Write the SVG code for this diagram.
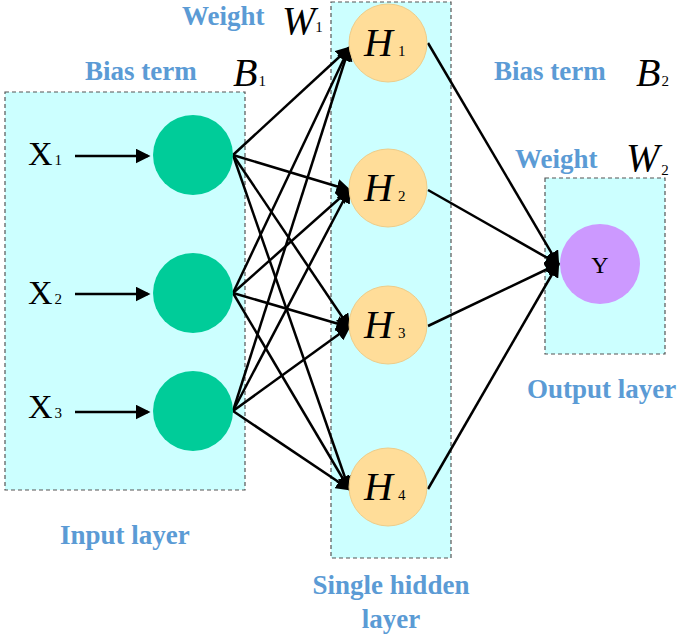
<svg xmlns="http://www.w3.org/2000/svg" width="685" height="637" viewBox="0 0 685 637">
<style>
.box{fill:#ccffff;stroke:#555;stroke-dasharray:4,3;stroke-width:1.2}
.lbl{font-family:"Liberation Serif",serif;font-weight:bold;fill:#5b9bd5;font-size:27px}
.m{font-family:"Liberation Serif",serif;font-style:italic;font-size:40px;fill:#000}
.s{font-family:"Liberation Serif",serif;font-size:15px;fill:#000;font-style:normal}
.x{font-family:"Liberation Serif",serif;font-size:34px;fill:#000}
.in{fill:#00cc99}
.hid{fill:#ffdd99;stroke:#eecc88}
.c line{stroke:#000;stroke-width:2.5;marker-end:url(#a)}
</style>
<defs><marker id="a" markerWidth="6" markerHeight="6" refX="5" refY="3" orient="auto" markerUnits="strokeWidth"><path d="M0,0L6,3L0,6z"/></marker></defs>
<rect class="box" x="5" y="92" width="240" height="398"/>
<rect class="box" x="331" y="2" width="120" height="556"/>
<rect class="box" x="545" y="178" width="120" height="176"/>
<g class="c">
<line x1="75" y1="156" x2="148" y2="156"/>
<line x1="75" y1="294" x2="148" y2="294"/>
<line x1="75" y1="412" x2="148" y2="412"/>
<line x1="233" y1="155" x2="349" y2="48"/><line x1="233" y1="155" x2="349" y2="190"/><line x1="233" y1="155" x2="349" y2="327"/><line x1="233" y1="155" x2="349" y2="489"/>
<line x1="233" y1="293" x2="349" y2="48"/><line x1="233" y1="293" x2="349" y2="190"/><line x1="233" y1="293" x2="349" y2="327"/><line x1="233" y1="293" x2="349" y2="489"/>
<line x1="233" y1="411" x2="349" y2="48"/><line x1="233" y1="411" x2="349" y2="190"/><line x1="233" y1="411" x2="349" y2="327"/><line x1="233" y1="411" x2="349" y2="489"/>
<line x1="428" y1="43" x2="558" y2="264"/><line x1="428" y1="190" x2="558" y2="264"/><line x1="428" y1="326" x2="558" y2="264"/><line x1="428" y1="489" x2="558" y2="264"/>
</g>
<g id="x1"><circle class="in" cx="193" cy="155" r="40"/><text class="x" x="28" y="165">X<tspan class="s" dx="2">1</tspan></text></g>
<g id="x2"><circle class="in" cx="193" cy="293" r="40"/><text class="x" x="28" y="304">X<tspan class="s" dx="2">2</tspan></text></g>
<g id="x3"><circle class="in" cx="193" cy="411" r="40"/><text class="x" x="28" y="418">X<tspan class="s" dx="2">3</tspan></text></g>
<g id="h1"><circle class="hid" cx="388" cy="43" r="39"/><text class="m" x="364" y="56">H<tspan class="s" dx="5">1</tspan></text></g>
<g id="h2"><circle class="hid" cx="388" cy="188" r="39"/><text class="m" x="364" y="201">H<tspan class="s" dx="5">2</tspan></text></g>
<g id="h3"><circle class="hid" cx="388" cy="325" r="39"/><text class="m" x="364" y="338">H<tspan class="s" dx="5">3</tspan></text></g>
<g id="h4"><circle class="hid" cx="388" cy="487" r="39"/><text class="m" x="364" y="500">H<tspan class="s" dx="5">4</tspan></text></g>
<g id="y"><circle cx="600" cy="264" r="40" fill="#cc99ff"/><text x="600" y="273" text-anchor="middle" style="font-family:'Liberation Serif',serif;font-size:24px">Y</text></g>
<text class="lbl" x="182" y="25">Weight</text>
<text class="m" x="282" y="34">W<tspan class="s" dx="0" dy="-2">1</tspan></text>
<text class="lbl" x="85" y="80">Bias term</text>
<text class="m" x="233" y="86">B<tspan class="s" dx="1">1</tspan></text>
<text class="lbl" x="494" y="80">Bias term</text>
<text class="m" x="636" y="86">B<tspan class="s" dx="1">2</tspan></text>
<text class="lbl" x="515" y="168">Weight</text>
<text class="m" x="626" y="171">W<tspan class="s" dx="2" dy="4">2</tspan></text>
<text class="lbl" x="60" y="544">Input layer</text>
<text class="lbl" x="527" y="398">Output layer</text>
<text class="lbl" x="391" y="594" text-anchor="middle">Single hidden</text>
<text class="lbl" x="391" y="628" text-anchor="middle">layer</text>
</svg>
